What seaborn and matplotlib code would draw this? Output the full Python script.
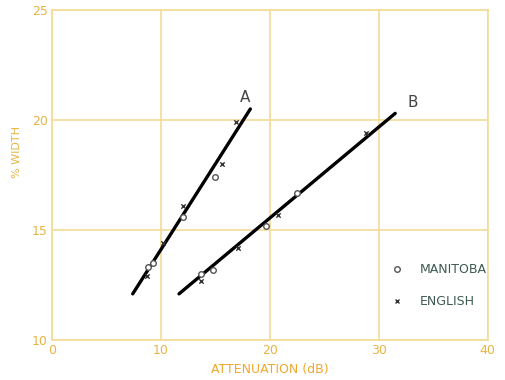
import numpy as np
import pandas as pd
import matplotlib
matplotlib.use("Agg")
import matplotlib.pyplot as plt
from matplotlib.lines import Line2D
import seaborn as sns

# Datos
manitoba_x = [8.8, 9.3, 12.0, 15.0, 13.7, 14.8, 19.6, 22.5]
manitoba_y = [13.3, 13.5, 15.6, 17.4, 13.0, 13.2, 15.2, 16.7]
english_x = [8.7, 10.2, 12.0, 15.6, 16.9, 13.7, 17.1, 20.7, 28.8]
english_y = [12.9, 14.4, 16.1, 18.0, 19.9, 12.7, 14.2, 15.7, 19.4]

# Rectas de ajuste A y B (extremos)
line_a_x = [7.4, 18.2]
line_a_y = [12.1, 20.5]
line_b_x = [11.65, 31.5]
line_b_y = [12.1, 20.3]

x_ticks = [0, 10, 20, 30, 40]
y_ticks = [10, 15, 20, 25]

grid_col = "#f2dc98"
tick_col = "#e8b444"
label_col = "#f0a830"
legend_col = "#3e5a50"

sns.set_style("white")
plt.rcParams['font.family'] = ['DejaVu Sans']

fig = plt.figure(figsize=(5.06, 3.80), dpi=100)
ax = fig.add_axes([0.103, 0.105, 0.861, 0.869])

df_m = pd.DataFrame({"x": manitoba_x, "y": manitoba_y})
df_e = pd.DataFrame({"x": english_x, "y": english_y})

sns.lineplot(x=line_a_x, y=line_a_y, ax=ax, color="black", lw=2.4)
sns.lineplot(x=line_b_x, y=line_b_y, ax=ax, color="black", lw=2.4)

sns.scatterplot(data=df_m, x="x", y="y", ax=ax, marker="o", s=16,
                facecolor="white", edgecolor="#555555", linewidth=1.0, zorder=3)
sns.scatterplot(data=df_e, x="x", y="y", ax=ax, marker="x", s=10,
                color="#333333", linewidth=1.0, zorder=3)

ax.text(17.2, 20.8, "A", fontsize=11, color="#444444")
ax.text(32.6, 20.6, "B", fontsize=11, color="#444444")

ax.set_xlim(0, 40)
ax.set_ylim(10, 25)
ax.set_xticks(x_ticks)
ax.set_yticks(y_ticks)
ax.grid(True, color=grid_col, lw=1.2)
for s in ax.spines.values():
    s.set_color(grid_col)
    s.set_linewidth(1.2)
ax.tick_params(colors=tick_col, labelsize=9, length=0, pad=3)

ax.set_xlabel("ATTENUATION (dB)", color=label_col, fontsize=9)
ax.set_ylabel("% WIDTH", color=tick_col, fontsize=8)
ax.xaxis.set_label_coords(0.5, -0.07)
ax.yaxis.set_label_coords(-0.07, 0.57)

handles = [
    Line2D([], [], ls="none", marker="o", ms=4, mfc="white", mec="#555555", mew=1.0),
    Line2D([], [], ls="none", marker="x", ms=3.5, color="#333333", mew=1.0),
]
leg = ax.legend(handles, ["MANITOBA", "ENGLISH"], frameon=False, loc="center left",
                bbox_to_anchor=(0.738, 0.165), handletextpad=0.8, labelspacing=1.5,
                fontsize=9)
for t in leg.get_texts():
    t.set_color(legend_col)

fig.savefig("out.png", dpi=100, facecolor="white")
